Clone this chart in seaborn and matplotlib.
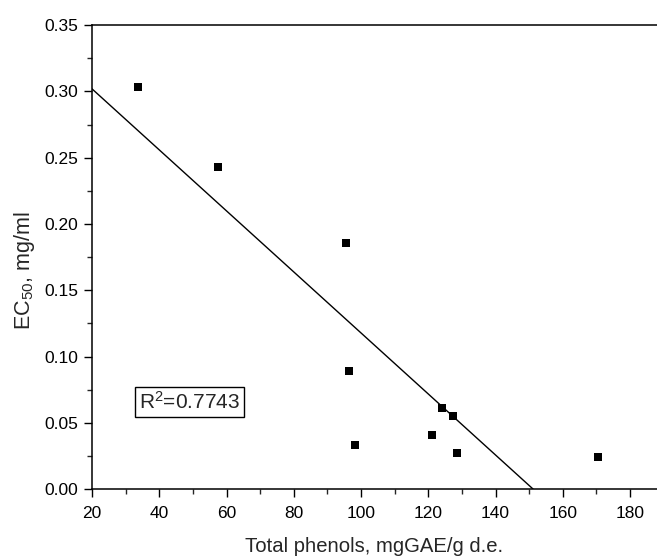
import numpy as np
import pandas as pd
import matplotlib.pyplot as plt
import seaborn as sns

# Data
total_phenols = [33.8, 57.4, 95.4, 96.3, 98.1, 121.0, 124.1, 127.3, 128.4, 170.5]
ec50 = [0.303, 0.243, 0.186, 0.089, 0.033, 0.041, 0.061, 0.055, 0.027, 0.024]

# Fitted line parameters (as drawn)
fit_intercept = 0.348
fit_slope = -0.002302
r_squared = "0.7743"

x_ticks = [20, 40, 60, 80, 100, 120, 140, 160, 180]
y_ticks = [0.00, 0.05, 0.10, 0.15, 0.20, 0.25, 0.30, 0.35]

df = pd.DataFrame({"x": total_phenols, "y": ec50})

sns.set_style("ticks")
plt.rcParams['font.family'] = ['Liberation Sans', 'DejaVu Sans']
plt.rcParams['mathtext.fontset'] = 'custom'
plt.rcParams['mathtext.rm'] = 'Liberation Sans'
plt.rcParams['mathtext.it'] = 'Liberation Sans'

fig = plt.figure(figsize=(6.57, 5.59), dpi=100)
ax = fig.add_axes([0.140, 0.125, 0.860, 0.830])

# fit line from x=20 down to y=0
x_end = -fit_intercept / fit_slope
fit_x = np.array([20, x_end])
fit_df = pd.DataFrame({"x": fit_x, "y": fit_intercept + fit_slope * fit_x})
sns.lineplot(data=fit_df, x="x", y="y", color="black", linewidth=1.0, ax=ax)

sns.scatterplot(data=df, x="x", y="y", marker="s", s=34, color="black",
                edgecolor="black", linewidth=0, ax=ax, zorder=3)

ax.set_xlim(20, 188)
ax.set_ylim(0, 0.35)
ax.set_xticks(x_ticks)
ax.set_yticks(y_ticks)
ax.set_yticklabels([f"{v:.2f}" for v in y_ticks])
ax.set_xticks(np.arange(30, 190, 20), minor=True)
ax.set_yticks(np.arange(0.025, 0.35, 0.05), minor=True)

ax.tick_params(which="major", direction="out", length=6, width=1.0,
               labelsize=12.5, colors="black", pad=4)
ax.tick_params(axis="x", which="major", pad=6)
ax.tick_params(which="minor", direction="out", length=3.5, width=1.0)

for side in ["left", "bottom", "top"]:
    ax.spines[side].set_linewidth(1.1)
    ax.spines[side].set_color("black")
ax.spines["right"].set_visible(False)

ax.set_xlabel("Total phenols, mgGAE/g d.e.", fontsize=14.6, labelpad=12)
ax.set_ylabel("EC$_{50}$, mg/ml", fontsize=15.5)
ax.yaxis.set_label_coords(-0.097, 0.47)

ax.text(0.173, 0.1875, "R$^{2}$=" + r_squared, transform=ax.transAxes,
        fontsize=15, ha="center", va="center",
        bbox=dict(boxstyle="square,pad=0.2", facecolor="white",
                  edgecolor="black", linewidth=1.0))

fig.savefig("out.png", dpi=100)
